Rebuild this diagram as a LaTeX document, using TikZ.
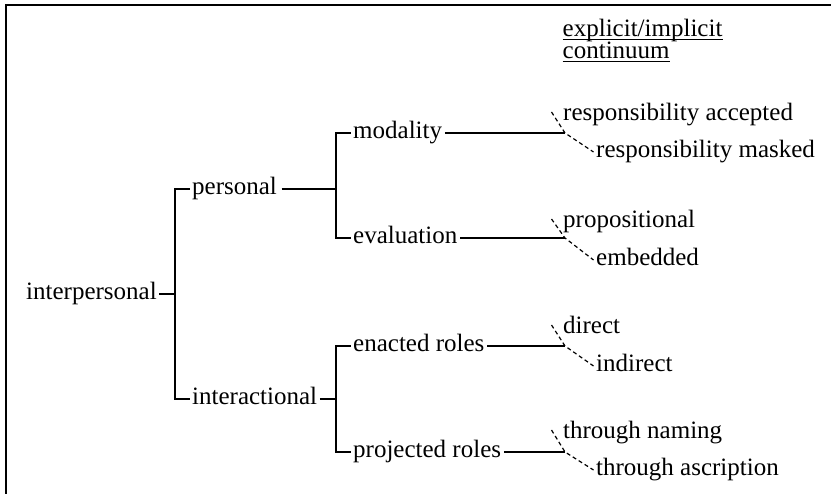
\documentclass[tikz,border=0pt]{standalone}
\usepackage{fontspec}
\setmainfont{Liberation Serif}
\begin{document}
\fontsize{25}{28}\selectfont
\begin{tikzpicture}[x=1pt,y=-1pt,line join=miter,
	term/.style={anchor=mid west,inner xsep=2.5pt,inner ysep=0pt},
	tree/.style={line width=1.4pt},
	alt/.style={line width=1.2pt,dash pattern=on 4pt off 3pt}]
	\useasboundingbox (0,0) rectangle (831,494);
	\draw[line width=2pt] (6,494)--(6,5)--(831,5);
	% heading
	\node[term,anchor=base west,text height=15pt,text depth=4pt] (head1) at (560,37) {explicit/implicit};
	\node[term,anchor=base west,text height=15pt,text depth=2pt] (head2) at (560,59) {continuum};
	\draw[line width=1pt] ([shift={(2.5,2.7)}]head1.base west)--([shift={(-2.5,2.7)}]head1.base east);
	\draw[line width=1pt] ([shift={(2.5,2.7)}]head2.base west)--([shift={(-2.5,2.7)}]head2.base east);
	% tree
	\node[term] (ip) at (23.5,294) {interpersonal};
	\node[term] (pers) at (189.5,189) {personal};
	\node[term] (inter) at (189.5,399) {interactional};
	\node[term] (mod) at (350.5,133) {modality};
	\node[term] (eval) at (350.5,238) {evaluation};
	\node[term] (enact) at (350.5,346) {enacted roles};
	\node[term] (proj) at (350.5,452) {projected roles};
	\node[term] (acc) at (560.5,115) {responsibility accepted};
	\node[term] (mask) at (593.5,152) {responsibility masked};
	\node[term] (prop) at (560.5,222) {propositional};
	\node[term] (emb) at (593.5,260) {embedded};
	\node[term] (dir) at (560.5,328) {direct};
	\node[term] (indir) at (593.5,366) {indirect};
	\node[term] (nam) at (560.5,433) {through naming};
	\node[term] (asc) at (593.5,470) {through ascription};
	\coordinate (j1) at (175,294);
	\coordinate (jp) at (336,189);
	\coordinate (ji) at (336,399);
	\coordinate (jm) at (565,133);
	\coordinate (je) at (565,238);
	\coordinate (jen) at (565,346);
	\coordinate (jpr) at (565,452);
	\draw[tree] (ip.mid east)--(j1);
	\draw[tree] (pers.mid west)-|(j1)|-(inter.mid west);
	\draw[tree] ([xshift=2pt]pers.mid east)--(jp);
	\draw[tree] (mod.mid west)-|(jp)|-(eval.mid west);
	\draw[tree] (inter.mid east)--(ji);
	\draw[tree] (enact.mid west)-|(ji)|-(proj.mid west);
	\draw[tree] (mod.mid east)--(jm);
	\draw[tree] (eval.mid east)--(je);
	\draw[tree] (enact.mid east)--(jen);
	\draw[tree] (proj.mid east)--(jpr);
	\foreach \j/\u/\l in {jm/acc/mask,je/prop/emb,jen/dir/indir,jpr/nam/asc}
		\draw[alt] ([shift={(-9,-3)}]\u.mid west)--(\j)--(\l.mid west);
\end{tikzpicture}
\end{document}
